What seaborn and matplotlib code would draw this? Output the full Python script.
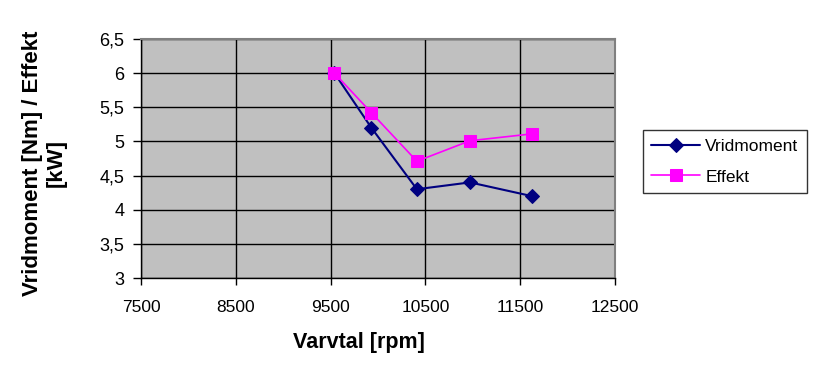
import pandas as pd
import matplotlib
matplotlib.use('Agg')
import matplotlib.pyplot as plt
import seaborn as sns

# data
varvtal_vrid = [9540, 9930, 10410, 10970, 11620]
vridmoment = [6.0, 5.2, 4.3, 4.4, 4.2]
varvtal_eff = [9540, 9930, 10410, 10970, 11620]
effekt = [6.0, 5.42, 4.71, 5.01, 5.11]

x_ticks = [7500, 8500, 9500, 10500, 11500, 12500]
y_ticks = [3, 3.5, 4, 4.5, 5, 5.5, 6, 6.5]
y_labels = ['3', '3,5', '4', '4,5', '5', '5,5', '6', '6,5']

sns.set_style('white')
plt.rcParams['font.family'] = ['Liberation Sans', 'DejaVu Sans']
plt.rcParams['text.color'] = 'black'
plt.rcParams['axes.labelcolor'] = 'black'
plt.rcParams['xtick.color'] = 'black'
plt.rcParams['ytick.color'] = 'black'

fig = plt.figure(figsize=(8.26, 3.8), dpi=100)
ax = fig.add_axes([0.1707, 0.2684, 0.5739, 0.629])
ax.set_facecolor('#C0C0C0')

sns.lineplot(x=varvtal_vrid, y=vridmoment, ax=ax, color='#000080', marker='D',
             markersize=7, markeredgecolor='#000080', linewidth=1.5, sort=False,
             label='Vridmoment')
sns.lineplot(x=varvtal_eff, y=effekt, ax=ax, color='#FF00FF', marker='s',
             markersize=8, markeredgecolor='#FF00FF', linewidth=1.2, sort=False,
             label='Effekt')

ax.set_xlim(7500, 12500)
ax.set_ylim(3, 6.5)
ax.set_xticks(x_ticks)
ax.set_xticklabels([str(t) for t in x_ticks], fontsize=12.5)
ax.set_yticks(y_ticks)
ax.set_yticklabels(y_labels, fontsize=13)
ax.grid(True, color='black', linewidth=1)
ax.set_axisbelow(True)
ax.tick_params(axis='x', direction='out', length=5, width=1, color='black',
               bottom=True, pad=11)
ax.tick_params(axis='y', direction='out', length=6, width=1, color='black',
               left=True, pad=6)

for s in ['top', 'right']:
    ax.spines[s].set_color('#808080')
    ax.spines[s].set_linewidth(1.5)
for s in ['left', 'bottom']:
    ax.spines[s].set_color('black')
    ax.spines[s].set_linewidth(1)

ax.set_xlabel('Varvtal [rpm]', fontsize=15.5, fontweight='bold')
ax.xaxis.set_label_coords(0.46, -0.225)
ax.set_ylabel('Vridmoment [Nm] / Effekt\n[kW]', fontsize=16, fontweight='bold',
              linespacing=1.2)
ax.yaxis.set_label_coords(-0.156, 0.481)

leg = ax.legend(loc='upper left', bbox_to_anchor=(0.778, 0.658), bbox_transform=fig.transFigure,
                borderaxespad=0, fontsize=12.5, frameon=True, fancybox=False, edgecolor='black',
                handlelength=2.8, borderpad=0.5, labelspacing=0.9, handletextpad=0.3)
leg.get_frame().set_linewidth(1)

fig.savefig('out.png', dpi=100)
